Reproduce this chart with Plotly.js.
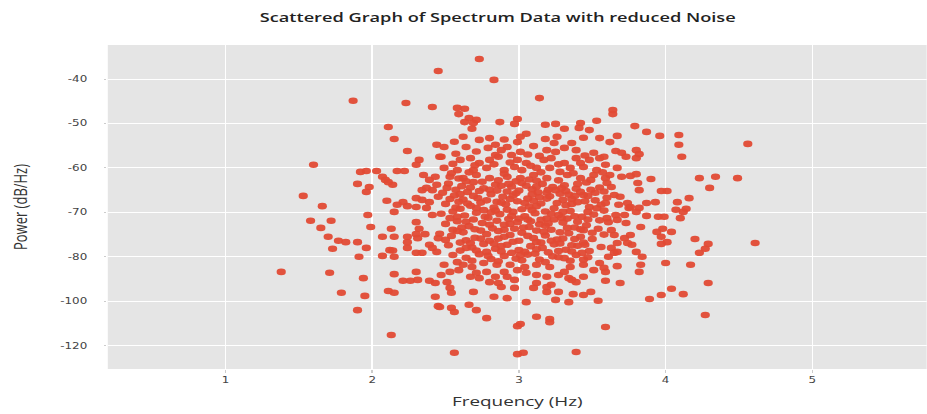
<!DOCTYPE html>
<html>
<head>
<meta charset="utf-8">
<script src="https://cdn.plot.ly/plotly-3.0.1.min.js"></script>
<style>
html,body{margin:0;padding:0;background:#fff;overflow:hidden;width:927px;height:414px;}
/* the reference image is stretched horizontally; reproduce that stretch */
#chart{width:662px;height:414px;transform:scaleX(1.4);transform-origin:0 0;}
</style>
</head>
<body>
<div id="chart"></div>
<script>
// [frequency (Hz), power (dB/Hz, plotted scale)]
const outerPoints = [
[1.38,-83.4],[1.53,-66.3],[1.60,-59.3],[1.66,-68.6],[1.97,-70.6],[1.58,-71.9],[1.72,-71.9],[1.65,-73.5],[1.99,-73.3],
[1.70,-75.5],[1.77,-76.4],[1.82,-76.7],[1.90,-76.7],[1.73,-78.2],[1.96,-78.0],[1.91,-80.0],[1.71,-83.6],[1.94,-84.8],
[1.79,-88.1],[1.95,-88.8],[1.90,-92.0],[2.13,-97.6],[2.15,-69.9],[2.15,-75.5],[2.07,-75.5],[2.07,-79.8],[2.15,-80.0],
[2.12,-78.5],[2.14,-78.6],[2.13,-73.7],[2.15,-83.9],[2.11,-87.7],[2.15,-88.1],[2.21,-85.4],[2.26,-85.4],[2.31,-85.2],
[2.30,-83.4],[2.39,-85.4],[2.43,-85.9],[2.43,-89.0],[2.45,-91.1],[2.24,-78.0],[2.24,-76.7],[2.24,-75.5],[2.30,-72.2],
[2.32,-73.7],[2.30,-74.9],[2.31,-75.8],[2.36,-74.9],[2.30,-79.1],[2.34,-79.1],[2.39,-77.3],[2.41,-78.0],[2.45,-75.8],
[2.41,-70.6],[2.37,-69.0],[2.44,-78.9]
];
const upperPoints = [
[2.45,-38.2],[1.87,-44.9],[2.23,-45.4],[2.41,-46.3],[2.11,-50.8],[2.15,-53.5],[2.44,-54.8],[2.24,-56.2],[2.32,-58.2],
[2.30,-59.3],[2.46,-57.5],[1.92,-60.9],[1.96,-60.7],[2.03,-60.7],[2.17,-60.7],[2.22,-60.7],[2.35,-61.6],[2.07,-62.0],
[2.09,-62.7],[2.11,-63.2],[2.14,-63.8],[1.90,-63.6],[1.98,-64.3],[1.96,-65.4],[2.10,-67.4],[2.21,-67.7],[2.17,-68.3],
[2.24,-68.6],[2.30,-66.8],[2.34,-67.2],[2.39,-62.7],[2.43,-62.0],[2.44,-63.8],[2.34,-65.0],[2.37,-64.5],[2.41,-65.0],
[2.45,-66.5],[2.39,-67.7],[2.30,-68.8],
[2.73,-35.5],[2.83,-40.2],[3.14,-44.3],[2.58,-46.5],[2.63,-46.7],[2.59,-47.9],[2.66,-48.8],[2.63,-49.7],[2.71,-49.2],
[2.68,-51.2],[2.69,-49.9],[2.87,-49.7],[2.99,-49.0],[2.97,-50.1],[3.18,-50.3],[3.25,-50.1],[3.31,-51.2],[3.42,-49.9],
[3.41,-51.0],[3.48,-51.5],[3.53,-49.4],[3.55,-53.3],[2.62,-53.0],[2.49,-55.3],[2.73,-53.7],[2.80,-53.3],[2.84,-54.8],
[2.92,-55.3],[3.01,-53.0],[2.99,-54.2],[3.10,-55.1],[3.18,-53.5],[3.26,-53.0],[3.24,-54.4],[2.64,-55.3],[2.79,-55.5],
[2.88,-56.0],[3.01,-56.4],[2.95,-57.1],[3.19,-56.0],[3.31,-55.5],[3.39,-56.0],[3.51,-56.6],[3.55,-57.8],[2.47,-57.5],
[2.60,-58.2],[2.67,-57.8],[2.73,-58.9],[2.80,-58.2],[2.86,-57.5],[2.99,-58.2],[3.05,-58.9],[3.17,-58.2],[3.22,-57.8],
[3.31,-58.9],[3.39,-57.8],[3.48,-58.2],[3.58,-57.5],[2.49,-60.0],[2.58,-60.5],[2.69,-60.5],[2.78,-60.0],[2.90,-60.5],
[2.97,-59.8],[3.02,-60.5],[3.12,-60.0],[3.21,-60.0],[3.28,-60.9],[3.35,-60.0],[3.44,-59.8],[3.53,-60.5],[2.53,-62.0],
[2.62,-62.3],[2.71,-61.6],[2.80,-62.3],[2.92,-62.0],[3.01,-62.3],[3.10,-61.6],[3.19,-62.3],[3.33,-61.6],[3.42,-62.3],
[3.51,-61.6],[3.59,-62.3],
[2.55,-59.1],[2.70,-59.4],[2.83,-59.2],[2.94,-58.8],[3.08,-59.5],[3.14,-57.3],[3.27,-59.2],[3.42,-58.9],[2.57,-56.8],
[2.71,-56.3],[2.84,-57.1],[3.06,-57.0],[3.25,-56.4],[3.45,-57.2],[2.90,-53.6],[3.05,-52.3],[2.56,-54.1],[3.36,-54.4],
[3.44,-53.2]
];
const rightPoints = [
[3.64,-47.0],[3.64,-47.9],[3.79,-50.6],[3.87,-51.9],[3.96,-52.8],[4.09,-52.6],[4.09,-54.8],[4.11,-57.5],[4.56,-54.6],
[3.67,-52.8],[3.62,-54.2],[3.66,-56.2],[3.70,-56.6],[3.73,-57.5],[3.80,-56.0],[3.82,-56.9],[3.80,-57.8],[3.59,-59.3],
[3.67,-60.0],[3.62,-61.6],[3.70,-62.0],[3.76,-61.8],[3.80,-61.4],[3.90,-62.5],[3.81,-63.4],[4.23,-62.3],[4.34,-62.0],
[4.49,-62.3],[4.30,-64.5],[4.16,-66.8],[3.97,-65.2],[4.01,-65.2],[3.82,-65.0],[3.65,-66.1],[3.69,-66.5],[3.60,-63.4],
[3.63,-64.3],[3.74,-67.9],[3.87,-67.9],[3.93,-67.7],[4.08,-67.7],[4.14,-69.2],[3.76,-68.8],[3.59,-67.9],
[4.07,-69.4],[4.12,-69.9],[4.10,-71.3],[3.87,-70.8],[3.95,-71.0],[3.99,-71.0],[3.83,-73.3],[3.94,-74.4],[3.98,-73.7],
[4.04,-74.4],[3.97,-75.5],[4.01,-76.7],[3.97,-77.1],[4.20,-76.0],[4.29,-77.1],[4.27,-78.2],[4.23,-79.1],[4.61,-76.9],
[4.00,-81.4],[4.17,-81.8],[3.83,-81.8],[3.82,-83.4],[3.67,-82.1],[3.59,-83.4],[3.69,-85.9],[3.59,-85.4],[4.29,-85.9],
[4.04,-87.2],[4.12,-88.4],[3.97,-88.6],[3.89,-89.5],[4.27,-93.1],[3.59,-95.8],[3.84,-80.0],[3.80,-78.9],[3.77,-77.3],
[3.74,-76.9],[3.72,-75.8],[3.67,-76.9],[3.63,-78.0],[3.65,-79.1],[3.61,-80.0],[3.67,-78.9],[3.76,-75.1],[3.65,-75.1],
[3.63,-74.0],[3.61,-72.2],[3.67,-71.7],[3.73,-72.4],[3.72,-70.6],[3.66,-70.6],[3.60,-71.3],[3.80,-69.9],[3.75,-69.0],
[3.68,-68.3],[3.82,-69.0]
];
const lowerPoints = [
[2.47,-84.1],[2.51,-85.7],[2.53,-87.0],[2.54,-88.1],[2.46,-91.3],[2.54,-91.5],[2.56,-92.4],[2.66,-90.8],[2.71,-92.0],
[2.69,-87.9],[2.78,-93.8],[2.83,-89.0],[2.92,-89.3],[2.88,-86.8],[2.86,-85.9],[2.80,-85.7],[2.73,-84.8],[2.67,-84.5],
[2.59,-83.0],[2.53,-83.4],[2.49,-81.8],[3.05,-90.2],[3.01,-95.1],[2.99,-95.6],[3.12,-93.5],[3.21,-94.0],[3.21,-94.7],
[3.25,-89.7],[3.34,-90.2],[3.37,-88.4],[3.44,-88.6],[3.49,-87.9],[3.54,-89.9],[2.56,-101.6],[2.99,-101.9],[3.03,-101.6],
[3.39,-101.4],[3.19,-87.9],[3.27,-87.9],[3.19,-86.8],[3.22,-86.3],[3.12,-85.9],[3.10,-87.0],[2.97,-87.0],[2.97,-85.2],
[2.92,-84.5],[2.84,-84.5],[3.36,-85.2],[3.39,-85.7],[3.34,-84.8],[3.05,-83.6],[3.12,-84.1],[3.19,-84.5],[3.27,-84.1],
[3.31,-83.4],[3.44,-84.5],[3.51,-83.0],[3.58,-82.5],[2.71,-83.6],[2.78,-83.4],[2.90,-83.4],[2.99,-83.0],[2.68,-82.3],
[2.62,-81.8],[2.58,-81.2],[2.76,-81.4],[2.85,-81.8],[2.94,-81.8],[3.04,-82.3],[3.12,-81.8],[3.21,-82.3],[3.35,-82.3],
[3.44,-81.8],[3.55,-81.4]
];
const corePoints = [
[2.52,-63.5],[2.61,-64.1],[2.69,-63.2],[2.76,-64.6],[2.84,-63.8],[2.95,-64.2],[3.02,-63.4],[3.09,-64.8],[3.16,-63.6],
[3.23,-64.3],[3.31,-63.9],[3.39,-64.7],[3.46,-63.3],[3.55,-64.4],
[2.48,-65.6],[2.56,-66.2],[2.65,-65.4],[2.72,-66.8],[2.81,-65.9],[2.89,-66.5],[2.98,-65.7],[3.06,-66.9],[3.13,-65.5],
[3.21,-66.4],[3.28,-65.8],[3.36,-67.0],[3.44,-66.1],[3.52,-65.6],[3.60,-66.7],
[2.50,-68.1],[2.59,-67.6],[2.67,-68.5],[2.74,-67.8],[2.83,-68.9],[2.91,-68.2],[2.99,-67.5],[3.07,-68.7],[3.15,-68.0],
[3.24,-69.1],[3.32,-68.4],[3.40,-67.7],[3.48,-68.8],[3.56,-68.3],
[2.47,-70.3],[2.55,-69.8],[2.63,-70.7],[2.71,-70.1],[2.79,-71.2],[2.87,-70.4],[2.96,-69.9],[3.04,-70.9],[3.11,-70.2],
[3.19,-71.4],[3.27,-70.6],[3.35,-69.7],[3.43,-71.0],[3.51,-70.5],[3.58,-69.6],
[2.50,-72.6],[2.58,-72.0],[2.66,-73.1],[2.75,-72.4],[2.82,-73.6],[2.90,-72.8],[2.99,-72.2],[3.07,-73.3],[3.14,-72.7],
[3.22,-73.9],[3.30,-72.3],[3.38,-73.4],[3.46,-72.9],[3.54,-73.7],
[2.46,-74.8],[2.54,-75.3],[2.62,-74.5],[2.70,-75.7],[2.78,-74.9],[2.86,-75.9],[2.94,-75.1],[3.02,-74.6],[3.10,-75.8],
[3.18,-75.2],[3.26,-76.1],[3.34,-74.7],[3.42,-75.5],[3.50,-76.0],[3.58,-75.0],
[2.52,-77.4],[2.60,-76.8],[2.68,-77.9],[2.76,-77.1],[2.84,-78.2],[2.92,-77.3],[3.00,-78.5],[3.08,-77.6],[3.16,-78.0],
[3.24,-77.2],[3.32,-78.4],[3.40,-77.5],[3.48,-78.7],[3.56,-77.8],
[2.55,-79.6],[2.64,-80.2],[2.73,-79.4],[2.81,-80.5],[2.90,-79.8],[2.98,-80.4],[3.06,-79.5],[3.14,-80.6],[3.23,-79.9],
[3.31,-80.3],[3.39,-79.6],[3.47,-80.1],
[2.57,-64.9],[2.73,-65.2],[2.88,-64.0],[3.00,-65.1],[3.12,-64.2],[3.25,-65.0],[3.34,-66.0],[3.49,-64.9],
[2.62,-67.1],[2.78,-67.3],[2.94,-67.0],[3.10,-67.4],[3.19,-66.9],[3.30,-67.2],[3.45,-67.5],
[2.60,-69.2],[2.76,-69.5],[2.92,-69.4],[3.02,-69.3],[3.18,-69.8],[3.30,-69.9],[3.47,-69.9],
[2.69,-71.6],[2.85,-71.9],[3.00,-71.4],[3.15,-71.7],[3.24,-71.6],[3.40,-72.1],[3.55,-71.8],
[2.70,-73.8],[2.86,-74.2],[2.97,-73.7],[3.12,-74.1],[3.28,-74.5],[3.44,-74.0],
[2.64,-76.3],[2.80,-76.4],[2.96,-76.6],[3.12,-76.7],[3.28,-77.0],[3.44,-76.8],
[2.71,-78.6],[2.88,-78.8],[3.04,-78.9],[3.20,-79.0],[3.36,-78.8],
[2.54,-61.2],[2.66,-61.0],[2.75,-63.1],[2.90,-61.3],[2.98,-63.0],[3.07,-62.6],[3.15,-61.0],[3.27,-62.8],[3.37,-61.2],
[3.49,-62.7],[3.57,-61.0],
[2.51,-64.5],[2.64,-63.0],[2.80,-64.9],[2.92,-65.3],[3.05,-64.0],[3.19,-65.6],[3.29,-64.6],[3.42,-65.4],[3.58,-65.3],
[2.53,-67.0],[2.69,-66.3],[2.85,-67.6],[2.96,-66.2],[3.04,-67.9],[3.14,-66.6],[3.26,-67.9],[3.38,-66.3],[3.52,-67.3],
[2.57,-68.9],[2.71,-69.0],[2.81,-70.0],[2.95,-70.8],[3.09,-69.5],[3.22,-70.3],[3.38,-70.9],[3.53,-69.1],
[2.53,-71.3],[2.64,-72.1],[2.77,-71.0],[2.93,-71.5],[3.08,-72.0],[3.20,-72.5],[3.33,-71.4],[3.47,-71.6],
[2.55,-73.9],[2.74,-74.1],[2.90,-73.9],[3.03,-73.4],[3.17,-74.4],[3.33,-73.5],[3.50,-74.6],
[2.50,-76.2],[2.67,-76.9],[2.83,-77.0],[3.00,-76.4],[3.15,-76.8],[3.30,-75.9],[3.45,-77.3],
[2.60,-78.6],[2.78,-78.9],[2.95,-79.1],[3.11,-79.3],[3.27,-78.7],[3.43,-79.1],
[2.68,-80.9],[2.86,-81.0],[3.02,-80.8],[3.18,-81.2],[3.35,-80.9],
[2.59,-62.4],[2.86,-62.8],[3.12,-62.9],[3.40,-63.6],[2.67,-64.4],[2.93,-63.6],[3.20,-64.9],[3.47,-66.3],
[2.60,-65.9],[2.85,-65.1],[3.09,-66.0],[3.32,-65.2],[2.65,-68.0],[2.88,-67.8],[3.12,-68.6],[3.36,-68.1],
[2.58,-71.0],[2.84,-69.6],[3.06,-71.6],[3.29,-71.2],[2.61,-73.4],[2.80,-72.8],[2.94,-72.6],[3.18,-73.0],[3.42,-73.8],
[2.58,-74.2],[2.74,-75.9],[2.90,-75.5],[3.06,-75.3],[3.22,-76.4],[3.38,-76.0],[2.64,-78.0],[2.88,-77.6],[3.12,-78.3],
[3.36,-77.4],[2.79,-79.8],[3.01,-79.6],[3.27,-80.1],[3.44,-80.6]
];

const yTickValues = [-40, -50, -60, -70, -80, -90, -100];
const yTickLabels = ["-40", "-50", "-60", "-70", "-80", "-100", "-120"];
const xTickValues = [1, 2, 3, 4, 5, 6];

const allPoints = outerPoints.concat(upperPoints, rightPoints, lowerPoints, corePoints);
const freq = allPoints.map(p => p[0]);
const power = allPoints.map(p => p[1]);

const trace = {
  type: 'scatter', mode: 'markers', x: freq, y: power,
  marker: {color: 'rgb(226,74,52)', size: 6.6, opacity: 0.95, line: {width: 0}},
  hoverinfo: 'x+y'
};

const layout = {
  width: 662, height: 414,
  margin: {l: 77, r: 0, t: 45, b: 45},
  paper_bgcolor: '#ffffff', plot_bgcolor: '#e5e5e5',
  showlegend: false,
  title: {text: 'Scattered Graph of Spectrum Data with reduced Noise', x: 0.537, xref: 'container', xanchor: 'center',
          y: 0.957, yref: 'container', yanchor: 'middle',
          font: {family: 'Open Sans, sans-serif', size: 13, color: '#222', weight: 600}},
  xaxis: {
    range: [0.198, 5.78], tickvals: xTickValues, ticks: 'outside', ticklen: 3, tickcolor: '#cccccc',
    showgrid: true, gridcolor: '#ffffff', gridwidth: 1, zeroline: false, showline: false,
    tickfont: {family: 'DejaVu Sans, sans-serif', size: 8.5, color: '#444'},
    title: {text: 'Frequency (Hz)', font: {family: 'Open Sans, sans-serif', size: 13.5, color: '#333'}, standoff: 12}
  },
  yaxis: {
    range: [-105.24, -32.35], tickvals: yTickValues, ticktext: yTickLabels, ticks: 'outside', ticklen: 2, tickcolor: '#cccccc',
    ticklabelstandoff: 10,
    showgrid: true, gridcolor: '#ffffff', gridwidth: 1, zeroline: false, showline: false,
    tickfont: {family: 'DejaVu Sans, sans-serif', size: 8.5, color: '#444'},
    title: {text: 'Power (dB/Hz)', font: {family: 'Open Sans, sans-serif', size: 13, color: '#333'}, standoff: 20}
  }
};

Plotly.newPlot('chart', [trace], layout, {displayModeBar: false, staticPlot: true});
</script>
</body>
</html>
